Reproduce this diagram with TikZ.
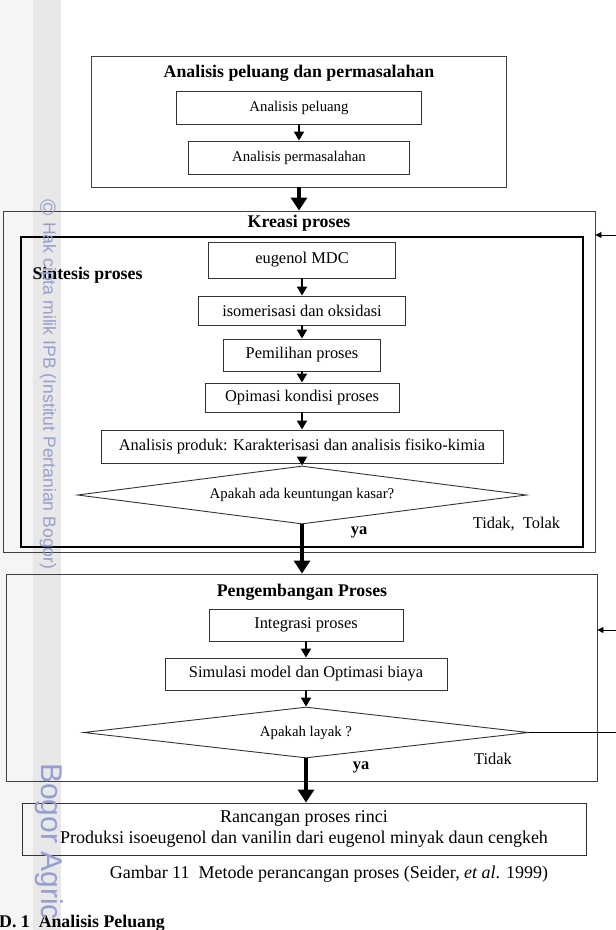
\documentclass[tikz,border=0pt]{standalone}
\usepackage{fontspec}
\setmainfont{Liberation Serif}
\newfontfamily\tandaair{Liberation Sans}
\usetikzlibrary{arrows.meta}
\usetikzlibrary{shapes.geometric}
\definecolor{ipbbiru}{RGB}{150,158,205}
\tikzset{
	kotak/.style={draw=black!80, line width=0.9pt, inner sep=0pt, font=\fontsize{16.4}{21}\selectfont}
}
\tikzset{
	kecil/.style={font=\fontsize{14.8}{17}\selectfont}
}
\tikzset{
	panel/.style={draw=black!75, line width=0.9pt, inner sep=0pt}
}
\tikzset{
	belah/.style={diamond, draw=black!80, line width=0.9pt, inner sep=0pt, font=\fontsize{14.8}{17}\selectfont}
}
\tikzset{
	judul/.style={font=\bfseries\fontsize{17.8}{20}\selectfont}
}
\tikzset{
	panah/.style={line width=1.8pt, -{Triangle[length=9pt,width=10pt]}}
}
\tikzset{
	panahtebal/.style={line width=4.5pt, -{Triangle[length=13pt,width=16pt]}}
}
\tikzset{
	balik/.style={line width=0.8pt, -{Triangle[length=6pt,width=6pt]}}
}

\begin{document}
\begin{tikzpicture}[x=1pt,y=-1pt]
	\useasboundingbox (0,0) rectangle (616,930);
	\fill[black!4] (0,0) rectangle (33,930);
	\fill[black!9] (33,0) rectangle (61,930);

	% Analisis peluang dan permasalahan
	\node[panel, minimum width=415pt, minimum height=131pt] (apl) at (299,121.5) {};
	\node[judul] (japl) at (299,73) {Analisis peluang dan permasalahan};
	\node[kotak, kecil, minimum width=245pt, minimum height=33pt] (ap) at (299,107.5) {Analisis peluang};
	\node[kotak, kecil, minimum width=221pt, minimum height=33pt] (am) at (299,157.5) {Analisis permasalahan};
	\draw[panah] (ap) -- (am);

	% Kreasi proses
	\node[panel, minimum width=592pt, minimum height=341pt] (kp) at (299,381.5) {};
	\node[judul] (jkp) at (299,223) {Kreasi proses};
	\node[panel, draw=black, line width=2pt, minimum width=562pt, minimum height=310pt] (sp) at (302,392) {};
	\node[judul, anchor=west] (jsp) at (29,275) {Sintesis proses};
	\node[kotak, minimum width=187pt, minimum height=36pt] (eu) at (302,260) {eugenol MDC};
	\node[kotak, minimum width=207pt, minimum height=29pt] (iso) at (302,310.5) {isomerisasi dan oksidasi};
	\node[kotak, minimum width=157pt, minimum height=32pt] (pil) at (302,355) {Pemilihan proses};
	\node[kotak, minimum width=194pt, minimum height=29pt] (opi) at (302,397.5) {Opimasi kondisi proses};
	\node[kotak, minimum width=402pt, minimum height=33pt] (apr) at (302,446.5) {Analisis produk: Karakterisasi dan analisis fisiko-kimia};
	\node[belah, aspect=7.7, minimum width=449pt, minimum height=58pt] (dk) at (302,495) {Apakah ada keuntungan kasar?};
	\foreach \a/\b in {eu/iso,iso/pil,pil/opi,opi/apr,apr/dk}{
		\draw[panah] (\a) -- (\b);
	}
	\node[font=\bfseries\fontsize{16.4}{19}\selectfont] (ya1) at (359,532) {ya};
	\node[font=\fontsize{16.4}{19}\selectfont] (tt) at (516.5,524) {Tidak,\ \ Tolak};

	% Pengembangan Proses
	\node[panel, minimum width=591pt, minimum height=207pt] (pp) at (301.5,677.5) {};
	\node[judul] (jpp) at (302,592) {Pengembangan Proses};
	\node[kotak, minimum width=194pt, minimum height=32pt] (ip) at (306,625) {Integrasi proses};
	\node[kotak, minimum width=282pt, minimum height=32pt] (sm) at (306,674) {Simulasi model dan Optimasi biaya};
	\node[belah, aspect=8.7, minimum width=445pt, minimum height=51pt] (dl) at (306,732.5) {Apakah layak ?};
	\draw[panah] (ip) -- (sm);
	\draw[panah] (sm) -- (dl);
	\node[font=\bfseries\fontsize{16.4}{19}\selectfont] (ya2) at (361,767) {ya};
	\node[font=\fontsize{16.4}{19}\selectfont] (td) at (493,759) {Tidak};

	% Rancangan proses rinci
	\node[kotak, align=center, font=\fontsize{18}{20.5}\selectfont, minimum width=564pt, minimum height=52pt] (rpr) at (304,829) {Rancangan proses rinci\\Produksi isoeugenol dan vanilin dari eugenol minyak daun cengkeh};
	\node[font=\fontsize{18}{20}\selectfont] (cap) at (329,874) {Gambar 11\ \ Metode perancangan proses (Seider, \textit{et al}. 1999)};

	\draw[panahtebal] (apl.south) -- (apl.south |- kp.north);
	\draw[panahtebal] (dk.south) -- (dk.south |- pp.north);
	\draw[panahtebal] (dl.south) -- (dl.south |- rpr.north);

	\coordinate (ka) at (616,235);
	\coordinate (kb) at (616,630);
	\draw[balik] (ka) -- (ka -| kp.east);
	\draw[balik] (kb) -- (kb -| pp.east);
	\draw[line width=0.8pt] (dl.east) -- (dl.east -| ka);

	\node[anchor=base west, font=\bfseries\fontsize{17.8}{20}\selectfont, inner sep=0pt] (d1) at (-1,927) {D. 1\ \ Analisis Peluang};

	% tanda air
	\node[rotate=-90, text=ipbbiru, font=\tandaair\fontsize{22}{22}\selectfont, inner sep=0pt] (hc) at (48,208) {©};
	\node[rotate=-90, anchor=west, text=ipbbiru, font=\tandaair\fontsize{17.6}{20}\selectfont, inner sep=0pt] (wm1) at (48,222) {Hak cipta milik IPB (Institut Pertanian Bogor)};
	\node[rotate=-90, anchor=west, text=ipbbiru, font=\tandaair\fontsize{30}{30}\selectfont, inner sep=0pt] (wm2) at (49,763) {Bogor Agric};
\end{tikzpicture}
\end{document}
